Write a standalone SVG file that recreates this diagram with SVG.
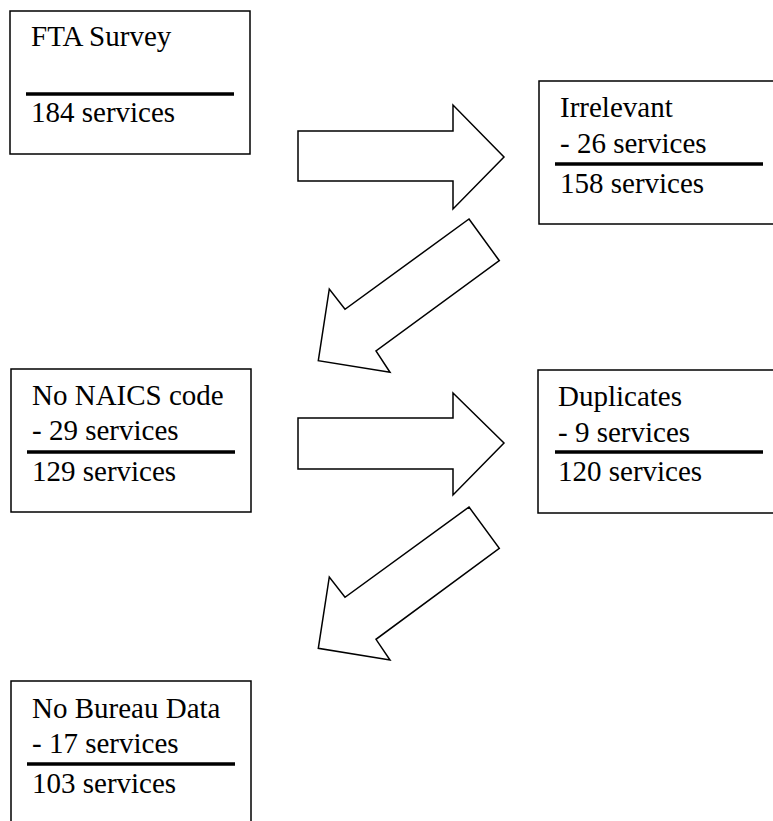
<svg xmlns="http://www.w3.org/2000/svg" width="773" height="821" viewBox="0 0 773 821">
<style>
.box{fill:#fff;stroke:#000;stroke-width:1.5}
.rule{stroke:#000;stroke-width:3.5}
text{font-family:'Liberation Serif','DejaVu Serif',serif;font-size:29px;fill:#000}
.arrow{fill:#fff;stroke:#000;stroke-width:1.5;stroke-linejoin:miter}
</style>
<rect width="773" height="821" fill="#fff"/>
<g id="connectors">
<polygon class="arrow" points="298,131 453,131 453,105 504,157 453,209 453,181 298,181"/>
<polygon class="arrow" points="469,219 499.3,260.7 376,351 390,372.3 318.3,360.7 329.3,289 345,309.3"/>
<polygon class="arrow" points="298,418 453,418 453,393 504,443 453,495 453,469 298,469"/>
<polygon class="arrow" points="469,507 499.3,548.3 376,639.3 390,660 318.3,648.3 329.3,577 345,597.3"/>
</g>
<g id="fta-survey">
<rect class="box" x="10" y="11" width="240" height="143"/>
<text x="31" y="46">FTA Survey</text>
<line class="rule" x1="26" y1="94" x2="234" y2="94"/>
<text x="31" y="122">184 services</text>
</g>
<g id="irrelevant">
<rect class="box" x="539" y="81" width="240" height="143"/>
<text x="560" y="117">Irrelevant</text>
<text x="560" y="153">- 26 services</text>
<line class="rule" x1="555" y1="164" x2="763" y2="164"/>
<text x="560" y="193">158 services</text>
</g>
<g id="no-naics">
<rect class="box" x="11" y="369" width="240" height="143"/>
<text x="32" y="405">No NAICS code</text>
<text x="32" y="440">- 29 services</text>
<line class="rule" x1="27" y1="452" x2="235" y2="452"/>
<text x="32" y="481">129 services</text>
</g>
<g id="duplicates">
<rect class="box" x="538" y="370" width="240" height="143"/>
<text x="558" y="406">Duplicates</text>
<text x="558" y="442">- 9 services</text>
<line class="rule" x1="555" y1="452" x2="763" y2="452"/>
<text x="558" y="481">120 services</text>
</g>
<g id="no-bureau-data">
<rect class="box" x="11" y="681" width="240" height="143"/>
<text x="32" y="718">No Bureau Data</text>
<text x="32" y="753">- 17 services</text>
<line class="rule" x1="27" y1="764" x2="235" y2="764"/>
<text x="32" y="793">103 services</text>
</g>
</svg>
